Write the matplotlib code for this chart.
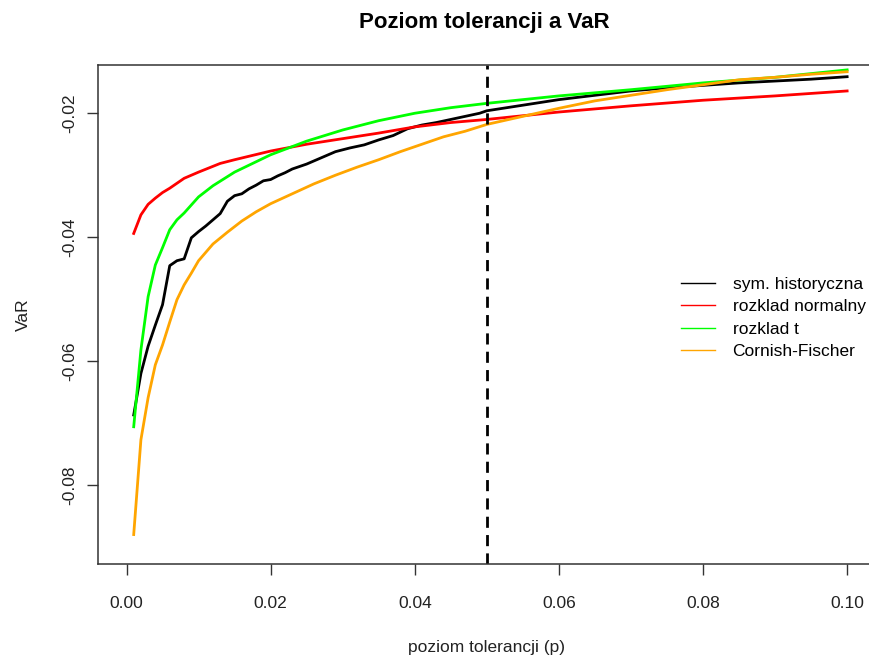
import numpy as np
import matplotlib.pyplot as plt

plt.rcParams['font.family'] = ['Liberation Sans', 'DejaVu Sans']

# VaR values, by tolerance level p
p_hist = [0.001, 0.002, 0.003, 0.004, 0.005, 0.006, 0.007, 0.008, 0.009, 0.010,
          0.011, 0.012, 0.013, 0.014, 0.015, 0.016, 0.017, 0.018, 0.019, 0.020,
          0.021, 0.022, 0.023, 0.025, 0.027, 0.029, 0.031, 0.033, 0.035, 0.037,
          0.039, 0.041, 0.043, 0.045, 0.047, 0.049, 0.050, 0.055, 0.060, 0.065,
          0.070, 0.075, 0.080, 0.085, 0.090, 0.095, 0.100]
var_hist = [-0.0687, -0.0620, -0.0576, -0.0542, -0.0509, -0.0446, -0.0438, -0.0435,
            -0.0401, -0.0391, -0.0382, -0.0372, -0.0362, -0.0342, -0.0333, -0.0330,
            -0.0322, -0.0316, -0.0309, -0.0307, -0.0301, -0.0296, -0.0290, -0.0282,
            -0.0272, -0.0262, -0.0256, -0.0251, -0.0243, -0.0236, -0.0225, -0.0219,
            -0.0215, -0.0210, -0.0205, -0.0200, -0.0196, -0.0187, -0.0178, -0.0171,
            -0.0164, -0.0159, -0.0155, -0.0151, -0.0148, -0.0145, -0.0141]

p_norm = [0.001, 0.002, 0.003, 0.004, 0.005, 0.006, 0.008, 0.010, 0.013, 0.015,
          0.020, 0.025, 0.030, 0.035, 0.040, 0.045, 0.050, 0.060, 0.070, 0.080,
          0.090, 0.100]
var_norm = [-0.0394, -0.0364, -0.0347, -0.0337, -0.0328, -0.0321, -0.0305, -0.0295,
            -0.0281, -0.0275, -0.0261, -0.0250, -0.0241, -0.0232, -0.0222, -0.0215,
            -0.0210, -0.0198, -0.0188, -0.0179, -0.0172, -0.0164]

p_t = [0.001, 0.002, 0.003, 0.004, 0.005, 0.006, 0.007, 0.008, 0.010, 0.012,
       0.015, 0.020, 0.025, 0.030, 0.035, 0.040, 0.045, 0.050, 0.060, 0.070,
       0.080, 0.090, 0.100]
var_t = [-0.0706, -0.0582, -0.0496, -0.0445, -0.0417, -0.0388, -0.0372, -0.0361,
         -0.0335, -0.0317, -0.0295, -0.0267, -0.0245, -0.0227, -0.0212, -0.0200,
         -0.0191, -0.0184, -0.0172, -0.0162, -0.0151, -0.0142, -0.0130]

p_cf = [0.001, 0.002, 0.003, 0.004, 0.005, 0.006, 0.007, 0.008, 0.009, 0.010,
        0.012, 0.014, 0.016, 0.018, 0.020, 0.023, 0.026, 0.029, 0.032, 0.035,
        0.038, 0.041, 0.044, 0.047, 0.050, 0.055, 0.060, 0.065, 0.070, 0.075,
        0.080, 0.085, 0.090, 0.095, 0.100]
var_cf = [-0.0880, -0.0727, -0.0659, -0.0606, -0.0574, -0.0537, -0.0501, -0.0477,
          -0.0458, -0.0438, -0.0411, -0.0392, -0.0374, -0.0359, -0.0346, -0.0330,
          -0.0314, -0.0300, -0.0287, -0.0275, -0.0262, -0.0250, -0.0238, -0.0229,
          -0.0218, -0.0205, -0.0192, -0.0180, -0.0171, -0.0162, -0.0154, -0.0146,
          -0.0142, -0.0137, -0.0133]

labels = ['sym. historyczna', 'rozklad normalny', 'rozklad t', 'Cornish-Fischer']
colors = ['black', '#FF0000', '#00FF00', '#FFA500']

x_ticks = [0.00, 0.02, 0.04, 0.06, 0.08, 0.10]
y_ticks = [-0.08, -0.06, -0.04, -0.02]
p_cut = 0.05

fig = plt.figure(figsize=(8.69, 6.56), dpi=100)
ax = fig.add_axes([0.1124, 0.1398, 0.8956, 0.7616])

series = [(p_hist, var_hist), (p_norm, var_norm), (p_t, var_t), (p_cf, var_cf)]
for (px, vy), c in zip(series, colors):
    ax.plot(px, vy, color=c, lw=2)

ax.axvline(p_cut, color='black', lw=2, dashes=(4, 2.6))

ax.set_xlim(-0.004, 0.104)
ax.set_ylim(-0.0928, -0.01216)
ax.set_xticks(x_ticks)
ax.set_xticklabels([f'{v:.2f}' for v in x_ticks])
ax.set_yticks(y_ticks)
ax.set_yticklabels([f'{v:.2f}' for v in y_ticks], rotation=90, va='center')
ax.tick_params(length=8, width=1, color='#333333', labelsize=12.5,
               labelcolor='#222222')
ax.tick_params(axis='x', pad=15)
ax.tick_params(axis='y', pad=7)
for s in ax.spines.values():
    s.set_color('#333333')
    s.set_linewidth(1.1)

ax.set_xlabel('poziom tolerancji (p)', fontsize=12.5, color='#222222', labelpad=21)
ax.set_ylabel('VaR', fontsize=12.5, color='#222222', labelpad=22)
fig.suptitle('Poziom tolerancji a VaR', x=0.557, y=0.982, fontsize=16,
             fontweight='bold')

handles = [plt.Line2D([], [], color=c, lw=1) for c in colors]
fig.legend(handles, labels, loc='upper left', bbox_to_anchor=(0.784, 0.578),
           frameon=False, fontsize=12.5, handlelength=1.95, handletextpad=1.0,
           labelspacing=0.42, borderpad=0, borderaxespad=0)

fig.savefig('out.png', dpi=100)
